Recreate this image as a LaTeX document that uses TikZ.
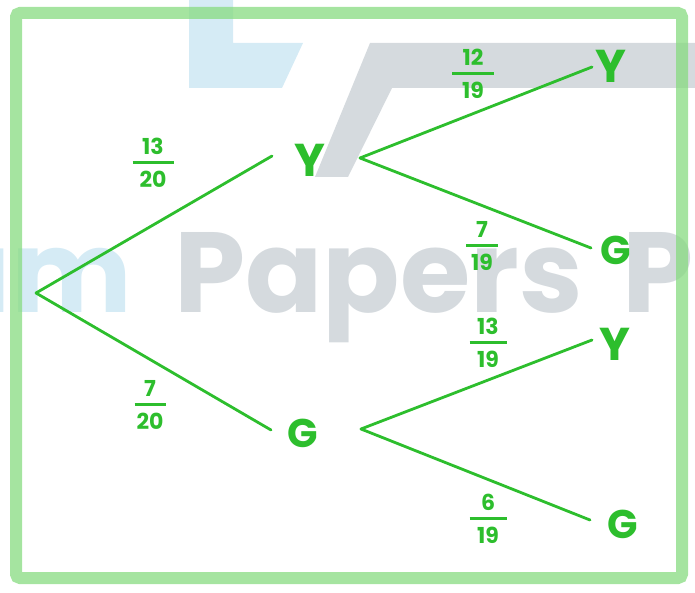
\documentclass[tikz,border=0pt]{standalone}
\usepackage{fontspec}
\setmainfont{Poppins}
\definecolor{ink}{RGB}{45,190,45}
\definecolor{framec}{RGB}{135,219,128}
\definecolor{wmgrey}{RGB}{213,218,222}
\definecolor{wmblue}{RGB}{213,235,245}
% stacked fraction: width, numerator, denominator
\newcommand\hfr[3]{\vbox{\hbox to #1{\hss#2\hss}\kern6pt\hrule height3pt\kern7pt\hbox to #1{\hss#3\hss}}}
\begin{document}
\begin{tikzpicture}[x=1pt,y=-1pt,
  branch/.style={draw=ink,line width=2.8pt,line cap=round},
  ylbl/.style={text=ink,font=\fontsize{46}{46}\selectfont\bfseries,inner sep=0pt},
  glbl/.style={text=ink,font=\fontsize{40}{40}\selectfont\bfseries,inner sep=0pt},
  prob/.style={text=ink,font=\fontsize{22}{22}\selectfont\bfseries,inner sep=0pt},
  wm/.style={font=\fontsize{114}{114}\selectfont\bfseries,inner sep=0pt}]
\useasboundingbox (0,0) rectangle (695,593);

% background watermark
\begin{scope}
  \clip (0,0) rectangle (695,593);
  \fill[wmblue] (189,0) -- (233,0) -- (233,43) -- (303,43) -- (282,88) -- (189,88) -- cycle;
  \fill[wmgrey] (315,177) -- (370,43) -- (695,43) -- (695,88) -- (392,88) -- (348,177) -- cycle;
  \node[wm,anchor=base east,text=wmblue] (wmA) at (132,312) {Exam};
  \node[wm,anchor=base west,text=wmgrey] (wmB) at (174,312) {Papers};
  \node[wm,anchor=base west,text=wmgrey] (wmC) at (622,312) {Practice};
\end{scope}

% frame
\draw[framec,opacity=0.75,line width=12pt,rounded corners=4pt] (16,13) rectangle (682,578);

% tree points
\coordinate (root) at (36,293);
\coordinate (eY) at (272,156);
\coordinate (eG) at (271,430);
\coordinate (vY) at (360,158);
\coordinate (vG) at (361,429);
\coordinate (eYY) at (592,67);
\coordinate (eYG) at (591,248);
\coordinate (eGY) at (592,340);
\coordinate (eGG) at (590,520);

% outcome letters
\node[ylbl] (Y1) at (310,160) {Y};
\node[glbl] (G1) at (303,433) {G};
\node[ylbl] (YY) at (611,66) {Y};
\node[glbl] (YG) at (616,250) {G};
\node[ylbl] (GY) at (615,344) {Y};
\node[glbl] (GG) at (623,524) {G};

% branches
\draw[branch] (root) -- (eY);
\draw[branch] (root) -- (eG);
\draw[branch] (vY) -- (eYY);
\draw[branch] (vY) -- (eYG);
\draw[branch] (vG) -- (eGY);
\draw[branch] (vG) -- (eGG);

% probabilities
\node[prob] (p1) at (153,163) {\hfr{41pt}{13}{20}};
\node[prob] (p2) at (150,405) {\hfr{31pt}{7}{20}};
\node[prob] (p3) at (473,74) {\hfr{42pt}{12}{19}};
\node[prob] (p4) at (482,246) {\hfr{32pt}{7}{19}};
\node[prob] (p5) at (488,343) {\hfr{37pt}{13}{19}};
\node[prob] (p6) at (488,519) {\hfr{37pt}{6}{19}};
\end{tikzpicture}
\end{document}
